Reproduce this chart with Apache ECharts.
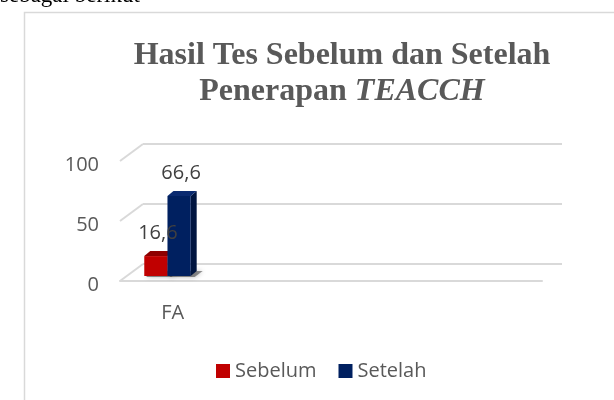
<!DOCTYPE html>
<html>
<head>
<meta charset="utf-8">
<script src="https://cdn.jsdelivr.net/npm/echarts@6/dist/echarts.min.js"></script>
<style>
  html, body { margin: 0; padding: 0; background: #fff; }
  #main { width: 614px; height: 400px; }
</style>
</head>
<body>
<div id="main"></div>
<script>
// data
var categories = ['FA', '', '', ''];
var sebelum = [16.6, null, null, null];
var setelah = [66.6, null, null, null];
var yTicks = [0, 50, 100];

var chart = echarts.init(document.getElementById('main'));

// depth of the 3D box (back wall vs front edge)
var DX = 23, DY = -17;
// depth of a single bar
var BDX = 6, BDY = -5;
var gridColor = '#d9d9d9';
var textColor = '#595959';

function barItem(sIdx, front, top, side) {
    return function (params, api) {
        var v = api.value(1);
        if (v == null || isNaN(v)) return null;
        var cat = api.value(0);
        var band = api.size([1, 0])[0];
        var w = band * 0.22;
        var c = api.coord([cat, 0])[0];
        var x = c - band * 0.27 + sIdx * w;
        var yb = api.coord([cat, 0])[1] - 5;
        var yt = api.coord([cat, v])[1] - 5;
        var label = String(v).replace('.', ',');
        return {
            type: 'group',
            children: [
                {
                    type: 'polygon',
                    shape: { points: [[x + 2, yb + 1], [x + w + 4, yb + 1], [x + w + BDX + 6, yb + BDY], [x + BDX, yb + BDY]] },
                    style: { fill: 'rgba(60,60,60,0.55)', shadowBlur: 5, shadowColor: 'rgba(0,0,0,0.5)' },
                    z2: 0
                },
                {
                    type: 'polygon',
                    shape: { points: [[x + w, yt], [x + w + BDX, yt + BDY], [x + w + BDX, yb + BDY], [x + w, yb]] },
                    style: { fill: side },
                    z2: 1
                },
                {
                    type: 'polygon',
                    shape: { points: [[x, yt], [x + BDX, yt + BDY], [x + w + BDX, yt + BDY], [x + w, yt]] },
                    style: { fill: top },
                    z2: 1
                },
                {
                    type: 'rect',
                    shape: { x: x, y: yt, width: w, height: yb - yt },
                    style: { fill: front },
                    z2: 2
                },
                {
                    type: 'text',
                    x: x + w / 2 + 2,
                    y: yt - 23,
                    style: {
                        text: label,
                        fill: '#404040',
                        font: '20px "Open Sans"',
                        align: 'center',
                        verticalAlign: 'middle'
                    },
                    z2: 5
                }
            ]
        };
    };
}

var option = {
    animation: false,
    backgroundColor: '#fff',
    title: {
        text: 'Hasil Tes Sebelum dan Setelah\n{b|Penerapan }{i|TEACCH}',
        left: 337,
        top: 33,
        textAlign: 'center',
        textStyle: {
            fontFamily: 'Liberation Serif',
            fontWeight: 'bold',
            fontSize: 32,
            lineHeight: 36,
            color: textColor,
            rich: {
                b: { fontFamily: 'Liberation Serif', fontWeight: 'bold', fontSize: 32, lineHeight: 36, color: textColor },
                i: { fontFamily: 'Liberation Serif', fontWeight: 'bold', fontStyle: 'italic', fontSize: 32, lineHeight: 36, color: textColor }
            }
        }
    },
    legend: {
        left: 211,
        top: 356,
        icon: 'rect',
        itemWidth: 14,
        itemHeight: 14,
        itemGap: 22,
        textStyle: { fontFamily: 'Open Sans', fontSize: 20, color: textColor },
        data: ['Sebelum', 'Setelah']
    },
    graphic: [
        {
            type: 'rect',
            shape: { x: 24.5, y: 12.5, width: 620, height: 400 },
            style: { fill: 'none', stroke: '#d9d9d9', lineWidth: 1.5 },
            silent: true
        },
        {
            type: 'text',
            left: 0,
            top: -16,
            style: { text: 'sebagai berikut', font: '23px "Liberation Serif"', fill: '#000' },
            silent: true
        }
    ],
    grid: [
        // back wall
        { left: 143, right: 52, top: 144, bottom: 136 },
        // front edge
        { left: 120, right: 72, top: 161, bottom: 119 }
    ],
    xAxis: [
        { gridIndex: 0, type: 'category', data: categories, show: false },
        {
            gridIndex: 1, type: 'category', data: categories,
            axisLine: { show: true, lineStyle: { color: gridColor, width: 2 } },
            axisTick: { show: false },
            axisLabel: { margin: 22, fontFamily: 'Open Sans', fontSize: 20, color: textColor }
        }
    ],
    yAxis: [
        {
            gridIndex: 0, type: 'value', min: 0, max: 100, interval: 50,
            axisLine: { show: false }, axisTick: { show: false }, axisLabel: { show: false },
            splitLine: { show: true, lineStyle: { color: gridColor, width: 2 } }
        },
        {
            gridIndex: 1, type: 'value', min: 0, max: 100, interval: 50,
            axisLine: { show: false }, axisTick: { show: false },
            splitLine: { show: false },
            axisLabel: {
                margin: 21,
                formatter: '{a|{value}}',
                rich: { a: { fontFamily: 'Open Sans', fontSize: 20, color: textColor, padding: [8, 0, 0, 0] } }
            }
        }
    ],
    series: [
        {
            // left wall lines
            type: 'custom',
            xAxisIndex: 0,
            yAxisIndex: 0,
            silent: true,
            data: yTicks.map(function (t) { return [0, t]; }),
            renderItem: function (params, api) {
                var y = api.coord([0, api.value(1)])[1];
                var x = params.coordSys.x;
                return {
                    type: 'line',
                    shape: { x1: x - DX, y1: y - DY, x2: x, y2: y },
                    style: { stroke: gridColor, lineWidth: 2 }
                };
            }
        },
        {
            name: 'Sebelum',
            type: 'custom',
            xAxisIndex: 1,
            yAxisIndex: 1,
            itemStyle: { color: '#c00000' },
            data: sebelum.map(function (v, i) { return [i, v]; }),
            renderItem: barItem(0, '#c00000', '#8e0000', '#7a0000')
        },
        {
            name: 'Setelah',
            type: 'custom',
            xAxisIndex: 1,
            yAxisIndex: 1,
            itemStyle: { color: '#002060' },
            data: setelah.map(function (v, i) { return [i, v]; }),
            renderItem: barItem(1, '#002060', '#0a2a70', '#001540')
        }
    ]
};

chart.setOption(option);
</script>
</body>
</html>
